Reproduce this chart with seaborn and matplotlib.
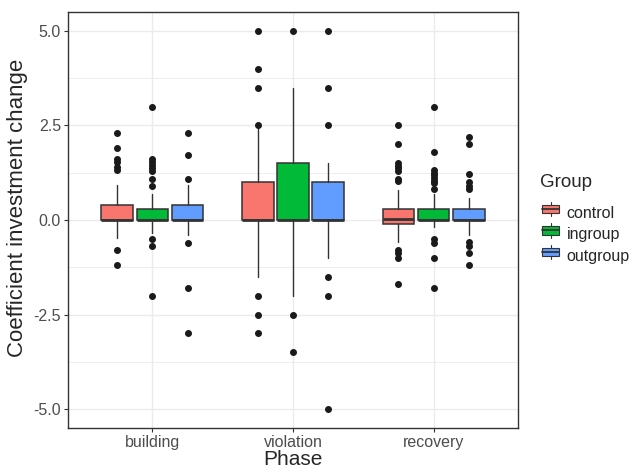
import seaborn as sns
import matplotlib.pyplot as plt
from matplotlib.legend_handler import HandlerBase
from matplotlib.patches import Rectangle, Patch
from matplotlib.lines import Line2D

# --- datos ---
phases = ["building", "violation", "recovery"]
groups = ["control", "ingroup", "outgroup"]
colors = ["#F8766D", "#00BA38", "#619CFF"]

# estadisticos por fase (filas) y grupo (columnas)
q1 = [[0.0, 0.0, 0.0], [0.0, 0.0, 0.0], [-0.11, 0.0, 0.0]]
med = [[0.0, 0.0, 0.0], [0.0, 0.0, 0.0], [0.02, 0.0, 0.0]]
q3 = [[0.40, 0.29, 0.40], [1.0, 1.5, 1.0], [0.29, 0.29, 0.29]]
whislo = [[-0.48, -0.35, -0.40], [-1.5, -2.0, -1.0], [-0.57, -0.18, -0.40]]
whishi = [[0.92, 0.69, 0.92], [2.5, 3.5, 1.5], [0.79, 0.69, 0.59]]
fliers = [
    [[2.3, 1.9, 1.6, 1.54, 1.41, 1.32, -0.8, -1.2],
     [3.0, 1.6, 1.54, 1.46, 1.37, 1.3, 1.09, 0.9, -0.5, -0.7, -2.0],
     [2.3, 1.72, 1.09, -0.6, -1.8, -3.0]],
    [[5.0, 4.0, 3.5, 2.5, -2.0, -2.5, -3.0],
     [5.0, -2.5, -3.5],
     [5.0, 3.5, 2.5, -1.5, -2.0, -5.0]],
    [[2.5, 2.0, 1.52, 1.43, 1.37, 1.3, 1.09, 1.02, -0.79, -0.88, -1.0, -1.7],
     [3.0, 1.8, 1.32, 1.25, 1.19, 1.12, 1.04, 0.97, 0.81, -0.51, -0.62, -1.0, -1.8],
     [2.2, 2.0, 1.21, 1.0, 0.9, 0.81, -0.57, -0.69, -0.88, -1.2]],
]

sns.set_style("whitegrid")
plt.rcParams["font.family"] = ["Liberation Sans", "DejaVu Sans"]

fig = plt.figure(figsize=(6.41, 4.74), dpi=100)
ax = fig.add_axes([68 / 641, 1 - 428 / 474, 450 / 641, 416 / 474])

edge = "#333333"
for i, ph in enumerate(phases):
    for j, g in enumerate(groups):
        st = [dict(q1=q1[i][j], med=med[i][j], q3=q3[i][j],
                   whislo=whislo[i][j], whishi=whishi[i][j],
                   fliers=fliers[i][j], label=g)]
        ax.bxp(st, positions=[i + 1 + (j - 1) * 0.25], widths=0.225,
               patch_artist=True, showcaps=False, manage_ticks=False,
               boxprops=dict(facecolor=colors[j], edgecolor=edge, linewidth=1.1),
               medianprops=dict(color=edge, linewidth=2.0),
               whiskerprops=dict(color=edge, linewidth=1.0),
               flierprops=dict(marker="o", markersize=4, markerfacecolor="#1a1a1a",
                               markeredgecolor="#1a1a1a"),
               zorder=3)

ax.set_xlim(0.4, 3.6)
ax.set_ylim(-5.5, 5.5)
ax.set_xticks([1, 2, 3])
ax.set_xticklabels(phases)
ax.set_yticks([-5, -2.5, 0, 2.5, 5])
ax.set_yticklabels(["-5.0", "-2.5", "0.0", "2.5", "5.0"])
ax.set_yticks([-3.75, -1.25, 1.25, 3.75], minor=True)
ax.grid(which="major", color="#EBEBEB", linewidth=1.0)
ax.grid(which="minor", axis="y", color="#EBEBEB", linewidth=0.6)
ax.set_axisbelow(True)
for s in ax.spines.values():
    s.set_color("#333333")
    s.set_linewidth(1.0)
ax.tick_params(which="major", length=3, color="#333333", labelsize=11.5,
               labelcolor="#4D4D4D", pad=2)
ax.tick_params(which="minor", length=0)
ax.tick_params(axis="both", which="major", left=True, bottom=True)
ax.set_xlabel("Phase", fontsize=15, labelpad=0)
ax.set_ylabel("Coefficient investment change", fontsize=16)
ax.yaxis.set_label_coords(-0.088, 0.53)


class BoxKey(HandlerBase):
    def create_artists(self, legend, orig, xd, yd, w, h, fontsize, trans):
        c = orig.get_facecolor()
        x0, x1 = xd + w * 0.1, xd + w * 0.9
        y0, y1 = yd + h * 0.2, yd + h * 0.8
        ym = yd + h * 0.5
        xm = xd + w * 0.5
        r = Rectangle((x0, y0), x1 - x0, y1 - y0, facecolor=c, edgecolor=edge,
                      linewidth=0.8, transform=trans)
        l1 = Line2D([xm, xm], [yd, y0], color=edge, linewidth=0.8, transform=trans)
        l2 = Line2D([xm, xm], [y1, yd + h], color=edge, linewidth=0.8, transform=trans)
        l3 = Line2D([x0, x1], [ym, ym], color=edge, linewidth=1.3, transform=trans)
        return [l1, l2, r, l3]


handles = [Patch(facecolor=c, label=g) for g, c in zip(groups, colors)]
leg = fig.legend(handles=handles, title="Group", loc="center left",
                 bbox_to_anchor=(526 / 641, 1 - 219 / 474), frameon=False,
                 fontsize=11.5, title_fontsize=13.5, handler_map={Patch: BoxKey()},
                 handlelength=1.3, handleheight=1.0, handletextpad=0.35,
                 labelspacing=0.37)
leg._legend_box.align = "left"
leg._legend_box.sep = 10

fig.savefig("out.png", dpi=100)
